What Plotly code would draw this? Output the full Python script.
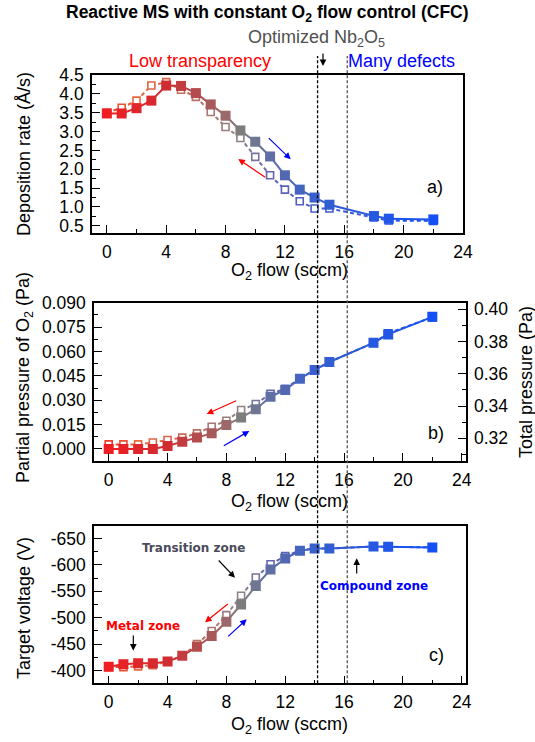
import plotly.graph_objects as go

# ---------------- data ----------------
flow = [0, 1, 2, 3, 4, 5, 6, 7, 8, 9, 10, 11, 12, 13, 14, 15, 18, 19, 22]

dep_inc = [3.48, 3.48, 3.62, 3.82, 4.22, 4.21, 4.02, 3.72, 3.42, 3.03, 2.73, 2.34, 1.84, 1.46, 1.25, 1.06, 0.76, 0.69, 0.67]
dep_dec = [3.50, 3.63, 3.82, 4.22, 4.31, 4.11, 3.92, 3.52, 3.12, 2.83, 2.33, 1.84, 1.46, 1.15, 0.96, 0.96, 0.72, 0.64, 0.63]

pp_inc = [0.000, 0.000, 0.000, 0.000, 0.0018, 0.0045, 0.0070, 0.0096, 0.0148, 0.0193, 0.0244, 0.0322, 0.0363, 0.0432, 0.0486, 0.0535, 0.0653, 0.0705, 0.0813]
pp_dec = [0.0028, 0.0028, 0.0028, 0.0040, 0.0055, 0.0070, 0.0096, 0.0137, 0.0174, 0.0240, 0.0277, 0.0340, 0.0370, 0.0435, 0.0486, 0.0535, 0.0653, 0.0712, 0.0810]

tv_inc = [-407.5, -412, -414, -414, -417, -428, -445, -465.5, -492.5, -525, -560, -591, -612, -626.5, -631, -631, -634.5, -634, -633]
tv_dec = [-407, -406.5, -408, -410, -417, -428, -450, -475, -505, -541.5, -576, -601, -616.5, -627, -631, -631, -634.5, -634, -633]

x_ticks = [0, 4, 8, 12, 16, 20, 24]

W, H = 535, 742

# ---------------- style helpers ----------------
FILLED_STOPS = [(0, (238, 30, 35)), (4, (208, 45, 50)), (8, (155, 105, 105)), (9, (125, 125, 125)),
                (11, (95, 110, 165)), (14, (55, 95, 205)), (22, (20, 80, 245))]
OPEN_STOPS = [(0, (235, 60, 40)), (2, (230, 105, 60)), (4, (215, 100, 75)), (7, (170, 120, 115)),
              (9, (140, 130, 135)), (11, (100, 100, 175)), (14, (70, 95, 205)), (22, (20, 80, 245))]


def interp(stops, x):
    if x <= stops[0][0]:
        return stops[0][1]
    for (x0, c0), (x1, c1) in zip(stops[:-1], stops[1:]):
        if x0 <= x <= x1:
            t = (x - x0) / (x1 - x0)
            return tuple(c0[k] + (c1[k] - c0[k]) * t for k in range(3))
    return stops[-1][1]


def rgb(c):
    return "rgb(%d,%d,%d)" % tuple(int(round(v)) for v in c)


def px(xp):
    return xp / W


def py(yp):
    return 1 - yp / H


FONT = "Liberation Sans, Arial, sans-serif"

fig = go.Figure()


def add_series(xs, ys, xa, ya, stops, dashed):
    for i in range(len(xs) - 1):
        cm = interp(stops, (xs[i] + xs[i + 1]) / 2)
        fig.add_trace(go.Scatter(
            x=[xs[i], xs[i + 1]], y=[ys[i], ys[i + 1]], mode="lines",
            line=dict(color=rgb(cm), width=2, dash="4px,3px" if dashed else "solid"),
            xaxis=xa, yaxis=ya, showlegend=False, hoverinfo="skip"))
    cols = [rgb(interp(stops, x)) for x in xs]
    if dashed:
        marker = dict(symbol="square", size=7, color="white", line=dict(color=cols, width=1.6))
    else:
        marker = dict(symbol="square", size=10, color=cols, line=dict(width=0))
    fig.add_trace(go.Scatter(x=xs, y=ys, mode="markers", marker=marker,
                             xaxis=xa, yaxis=ya, showlegend=False))


# panel a
add_series(flow, dep_dec, "x", "y", OPEN_STOPS, True)
add_series(flow, dep_inc, "x", "y", FILLED_STOPS, False)
# panel b
add_series(flow, pp_dec, "x2", "y2", OPEN_STOPS, True)
add_series(flow, pp_inc, "x2", "y2", FILLED_STOPS, False)
fig.add_trace(go.Scatter(x=[None], y=[None], xaxis="x2", yaxis="y3", showlegend=False))
# panel c
add_series(flow, tv_dec, "x3", "y4", OPEN_STOPS, True)
add_series(flow, tv_inc, "x3", "y4", FILLED_STOPS, False)

tickfont = dict(family=FONT, size=17.5, color="black")
common_axis = dict(showline=True, linecolor="black", linewidth=1.6, mirror=True, ticks="inside",
                   ticklen=8, tickwidth=1.4, tickcolor="black", showgrid=False, zeroline=False,
                   tickfont=tickfont, automargin=False)

xa_dom = [92 / W, 463 / W]
xbc_dom = [94 / W, 465.7 / W]


def xaxis(anchor, dom, rng):
    d = dict(common_axis)
    d.update(domain=dom, anchor=anchor, range=rng, tickvals=x_ticks, ticktext=[str(v) for v in x_ticks],
             minor=dict(ticks="inside", ticklen=4, tickwidth=1.2, tickcolor="black", dtick=2, tick0=0),
             ticklabelstandoff=2)
    return d


fig.update_layout(
    width=W, height=H, margin=dict(l=0, r=0, t=0, b=0),
    paper_bgcolor="white", plot_bgcolor="white", showlegend=False,
    xaxis=xaxis("y", xa_dom, [-1, 24]),
    xaxis2=xaxis("y2", xbc_dom, [-1, 24.27]),
    xaxis3=xaxis("y4", xbc_dom, [-1, 24.27]),
    yaxis=dict(common_axis, domain=[py(233), py(75)], anchor="x", range=[0.31, 4.5],
               tickmode="array", tickvals=[0.5, 1.0, 1.5, 2.0, 2.5, 3.0, 3.5, 4.0, 4.5],
               ticktext=["0.5", "1.0", "1.5", "2.0", "2.5", "3.0", "3.5", "4.0", "4.5"],
               minor=dict(ticks="inside", ticklen=4, tickwidth=1.2, tickcolor="black", dtick=0.25, tick0=0),
               ticklabelstandoff=3),
    yaxis2=dict(common_axis, domain=[py(461), py(302.7)], anchor="x2", range=[-0.0074, 0.090],
                tickmode="array", tickvals=[0, 0.015, 0.03, 0.045, 0.06, 0.075, 0.09],
                ticktext=["0.000", "0.015", "0.030", "0.045", "0.060", "0.075", "0.090"],
                minor=dict(ticks="inside", ticklen=4, tickwidth=1.2, tickcolor="black", dtick=0.0075, tick0=0),
                ticklabelstandoff=3),
    yaxis3=dict(common_axis, overlaying="y2", side="right", anchor="x2", range=[0.3059, 0.4041],
                mirror=False, tickmode="array", tickvals=[0.32, 0.34, 0.36, 0.38, 0.40],
                ticktext=["0.32", "0.34", "0.36", "0.38", "0.40"],
                minor=dict(ticks="inside", ticklen=4, tickwidth=1.2, tickcolor="black", dtick=0.01, tick0=0),
                ticklabelstandoff=3),
    yaxis4=dict(common_axis, domain=[py(683.3), py(525.7)], anchor="x3", range=[-376, -674],
                tickmode="array", tickvals=[-400, -450, -500, -550, -600, -650],
                ticktext=["-400", "-450", "-500", "-550", "-600", "-650"],
                minor=dict(ticks="inside", ticklen=4, tickwidth=1.2, tickcolor="black", dtick=25, tick0=0),
                ticklabelstandoff=3),
)

# vertical dashed guide lines across all panels
for xv, col in [(14.2, "black"), (16.2, "#555555")]:
    fig.add_shape(type="line", xref="x", yref="paper", x0=xv, x1=xv, y0=py(683.3), y1=py(56),
                  line=dict(color=col, width=1.3, dash="3px,2px"))

ann = []


def text(xp, yp, t, size=18, color="black", family=FONT, angle=0):
    ann.append(dict(x=px(xp), y=py(yp), xref="paper", yref="paper", text=t, showarrow=False,
                    font=dict(family=family, size=size, color=color), textangle=angle,
                    xanchor="center", yanchor="middle"))


def arrow(tx, ty, hx, hy, color, width=1.2):
    ann.append(dict(x=px(hx), y=py(hy), xref="paper", yref="paper", text="", showarrow=True,
                    ax=tx - hx, ay=ty - hy, arrowhead=2, arrowsize=1.1, arrowwidth=width,
                    arrowcolor=color))


text(267, 14, "<b>Reactive MS with constant O<sub>2</sub> flow control (CFC)</b>", size=17.5)
text(316, 38, "Optimized Nb<sub>2</sub>O<sub>5</sub>", color="#505050")
arrow(323, 52, 323, 66, "black")
text(200, 61, "Low transparency", color="#ff0000")
text(401, 61, "Many defects", color="#0000ff")

text(24, 154, "Deposition rate (Å/s)", angle=-90)
text(24, 378, "Partial pressure of O<sub>2</sub> (Pa)", angle=-90)
text(526, 382, "Total pressure (Pa)", angle=-90)
text(24, 608, "Target voltage (V)", angle=-90)

for yv in (272, 502, 725):
    text(289, yv, "O<sub>2</sub> flow (sccm)")

text(435, 187, "a)")
text(436, 433, "b)")
text(436, 655, "c)")

arrow(266.7, 178.3, 238.3, 159, "#ff0000")
arrow(267.3, 136.7, 290.7, 159.3, "#0000ff")
arrow(237.7, 400, 206.7, 414, "#ff0000")
arrow(222.3, 446.7, 249.3, 431, "#0000ff")
arrow(229.3, 602.7, 205, 622.3, "#ff0000")
arrow(226.7, 637.7, 246.7, 619.3, "#0000ff")

BOLD = "DejaVu Sans, Verdana, sans-serif"
text(143, 625.7, "<b>Metal zone</b>", size=12, color="#ff0000", family=BOLD)
arrow(133.3, 634, 133.3, 650.7, "black")
text(193.3, 548.3, "<b>Transition zone</b>", size=12, color="#4a4a5a", family=BOLD)
arrow(217.3, 559, 235, 577.7, "black")
text(374.3, 585.7, "<b>Compound zone</b>", size=12, color="#0000ff", family=BOLD)
arrow(356.7, 575, 356.7, 558.3, "black")

fig.update_layout(annotations=ann)

fig.write_html("out.html")
